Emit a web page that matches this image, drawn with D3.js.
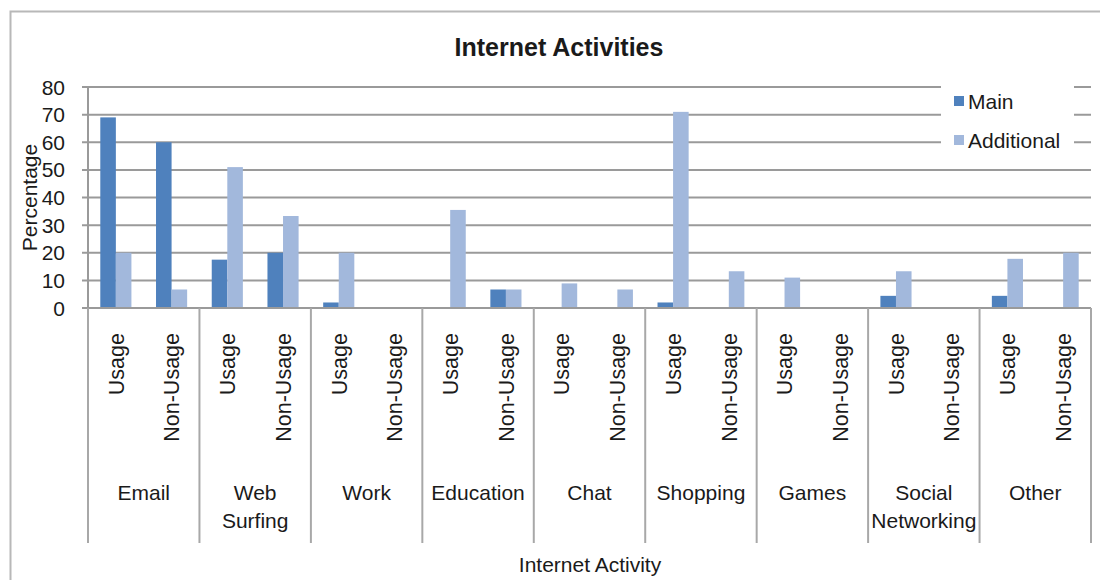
<!DOCTYPE html>
<html>
<head>
<meta charset="utf-8">
<script src="https://cdn.jsdelivr.net/npm/d3@7"></script>
<style>
  body { margin: 0; background: #fff; }
  text { font-family: "Liberation Sans", Arial, sans-serif; fill: #1a1a1a; }
</style>
</head>
<body>
<div id="chart"></div>
<script>
// chart data
var categories = ["Email", "Web Surfing", "Work", "Education", "Chat", "Shopping", "Games", "Social Networking", "Other"];
var subCategories = ["Usage", "Non-Usage"];
var seriesNames = ["Main", "Additional"];
// values per category, in order Usage, Non-Usage
var mainValues = [
    [69, 60], [17.5, 20], [2, 0], [0, 6.7], [0, 0], [2, 0], [0, 0], [4.4, 0], [4.4, 0]
];
var additionalValues = [
    [20, 6.7], [51, 33.3], [20, 0], [35.5, 6.7], [8.9, 6.7], [71, 13.3], [11, 0], [13.3, 0], [17.8, 20]
];
var yTicks = [0, 10, 20, 30, 40, 50, 60, 70, 80];
var colors = ["#4f81bd", "#a2b8dc"];

window.onload = function() {
    var w = 1100, h = 580;
    var left = 88, right = 1091, top = 87, bottom = 308;

    var svg = d3.select("#chart").append("svg")
        .attr("width", w).attr("height", h);

    // outer chart border
    svg.append("rect")
        .attr("x", 10.5).attr("y", 11.5)
        .attr("width", 1200).attr("height", 700)
        .attr("fill", "none").attr("stroke", "#b8b8b8").attr("stroke-width", 2);

    var y = d3.scaleLinear().domain([0, 80]).range([bottom, top]);
    var x0 = d3.scaleBand().domain(categories).range([left, right]);
    var x1 = d3.scaleBand().domain(subCategories).range([0, x0.bandwidth()]);
    var x2 = d3.scaleBand().domain(seriesNames).range([0, x1.bandwidth()]).paddingOuter(0.79);

    // gridlines
    svg.append("g").selectAll("line")
        .data(yTicks.slice(1))
        .enter().append("line")
        .attr("x1", left - 6).attr("x2", right)
        .attr("y1", function(d) { return y(d); })
        .attr("y2", function(d) { return y(d); })
        .attr("stroke", "#9a9a9a").attr("stroke-width", 2);

    // y axis labels
    svg.append("g").selectAll("text")
        .data(yTicks)
        .enter().append("text")
        .attr("x", 65)
        .attr("y", function(d) { return y(d); })
        .attr("dy", "0.36em")
        .attr("text-anchor", "end")
        .style("font-size", "21px")
        .text(function(d) { return d; });

    // bars
    var rows = [];
    categories.forEach(function(c, i) {
        subCategories.forEach(function(s, j) {
            rows.push({cat: c, sub: s, series: "Main", value: mainValues[i][j]});
            rows.push({cat: c, sub: s, series: "Additional", value: additionalValues[i][j]});
        });
    });

    svg.append("g").selectAll("rect")
        .data(rows)
        .enter().append("rect")
        .attr("x", function(d) { return x0(d.cat) + x1(d.sub) + x2(d.series); })
        .attr("y", function(d) { return y(d.value); })
        .attr("width", x2.bandwidth())
        .attr("height", function(d) { return bottom - y(d.value); })
        .attr("fill", function(d) { return d.series == "Main" ? colors[0] : colors[1]; });

    // axis lines
    svg.append("line")
        .attr("x1", left).attr("x2", left).attr("y1", top).attr("y2", bottom)
        .attr("stroke", "#9a9a9a").attr("stroke-width", 2);
    svg.append("line")
        .attr("x1", left - 6).attr("x2", right).attr("y1", bottom).attr("y2", bottom)
        .attr("stroke", "#9a9a9a").attr("stroke-width", 2);

    // category separators
    var edges = categories.map(function(c) { return x0(c); }).concat([right]);
    svg.append("g").selectAll("line")
        .data(edges)
        .enter().append("line")
        .attr("x1", function(d) { return d; }).attr("x2", function(d) { return d; })
        .attr("y1", bottom).attr("y2", 543)
        .attr("stroke", "#a8a8a8").attr("stroke-width", 2);

    // sub category labels (rotated)
    var subRows = [];
    categories.forEach(function(c) {
        subCategories.forEach(function(s) { subRows.push({cat: c, sub: s}); });
    });
    svg.append("g").selectAll("text")
        .data(subRows)
        .enter().append("text")
        .attr("transform", function(d) {
            var cx = x0(d.cat) + x1(d.sub) + x1.bandwidth() / 2;
            return "translate(" + cx + ",333) rotate(-90)";
        })
        .attr("dy", "0.36em")
        .attr("text-anchor", "end")
        .style("font-size", "21.5px")
        .text(function(d) { return d.sub; });

    // category labels, wrapped on space
    var catText = svg.append("g").selectAll("text")
        .data(categories)
        .enter().append("text")
        .attr("x", function(d) { return x0(d) + x0.bandwidth() / 2; })
        .attr("y", 500)
        .attr("text-anchor", "middle")
        .style("font-size", "21px");
    catText.each(function(d) {
        var parts = d.split(" ");
        var t = d3.select(this);
        parts.forEach(function(p, i) {
            t.append("tspan")
                .attr("x", x0(d) + x0.bandwidth() / 2)
                .attr("dy", i == 0 ? 0 : 28)
                .text(p);
        });
    });

    // title
    svg.append("text")
        .attr("x", 559).attr("y", 56)
        .attr("text-anchor", "middle")
        .style("font-size", "25px").style("font-weight", "bold")
        .text("Internet Activities");

    // axis titles
    svg.append("text")
        .attr("x", 590).attr("y", 572)
        .attr("text-anchor", "middle")
        .style("font-size", "21px")
        .text("Internet Activity");
    svg.append("text")
        .attr("transform", "translate(37," + (top + bottom) / 2 + ") rotate(-90)")
        .attr("text-anchor", "middle")
        .style("font-size", "21px")
        .text("Percentage");

    // legend
    var legend = svg.append("g");
    legend.append("rect")
        .attr("x", 941).attr("y", 78).attr("width", 133).attr("height", 72)
        .attr("fill", "#fff");
    seriesNames.forEach(function(s, i) {
        legend.append("rect")
            .attr("x", 954).attr("y", 96 + i * 39)
            .attr("width", 10).attr("height", 10)
            .attr("fill", colors[i]);
        legend.append("text")
            .attr("x", 968).attr("y", 101 + i * 39)
            .attr("dy", "0.36em")
            .style("font-size", "21px")
            .text(s);
    });
}
</script>
</body>
</html>
